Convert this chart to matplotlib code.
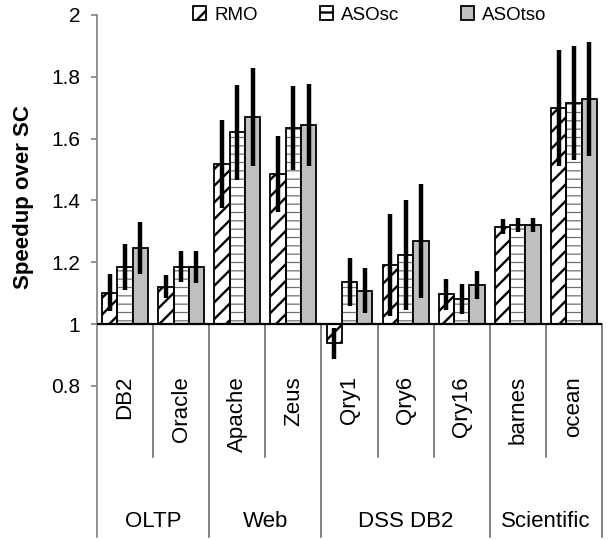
import numpy as np
import matplotlib
matplotlib.use('Agg')
import matplotlib.pyplot as plt
from matplotlib.patches import Patch

plt.rcParams['font.family'] = ['Liberation Sans', 'DejaVu Sans']
plt.rcParams['hatch.linewidth'] = 1.7

# data
benchmarks = ['DB2', 'Oracle', 'Apache', 'Zeus', 'Qry1', 'Qry6', 'Qry16', 'barnes', 'ocean']
groups = ['OLTP', 'Web', 'DSS DB2', 'Scientific']
group_sizes = [2, 2, 3, 2]
series = ['RMO', 'ASOsc', 'ASOtso']

rmo = [1.101, 1.121, 1.518, 1.485, 0.938, 1.191, 1.096, 1.315, 1.699]
asosc = [1.185, 1.185, 1.620, 1.634, 1.135, 1.223, 1.081, 1.320, 1.715]
asotso = [1.246, 1.185, 1.670, 1.644, 1.108, 1.269, 1.126, 1.320, 1.728]
rmo_err = [0.060, 0.037, 0.142, 0.123, 0.050, 0.165, 0.049, 0.025, 0.188]
asosc_err = [0.075, 0.050, 0.155, 0.136, 0.078, 0.178, 0.048, 0.022, 0.185]
asotso_err = [0.083, 0.052, 0.160, 0.133, 0.072, 0.184, 0.045, 0.022, 0.185]

yticks = [0.8, 1, 1.2, 1.4, 1.6, 1.8, 2]
ytick_labels = ['0.8', '1', '1.2', '1.4', '1.6', '1.8', '2']

fig = plt.figure(figsize=(6.08, 5.41), dpi=100)
ax = fig.add_axes([97/608, 4/541, 505/608, 522/541])

n = len(benchmarks)
x = np.arange(n) + 0.5
w = 0.273
styles = [
    dict(facecolor='white', hatch='//', hcolor='black'),
    dict(facecolor='white', hatch='--', hcolor='#707070'),
    dict(facecolor='#c0c0c0', hatch=None, hcolor='black'),
]
vals = [rmo, asosc, asotso]
errs = [rmo_err, asosc_err, asotso_err]

for k in range(3):
    pos = x + (k - 1) * w
    h = np.array(vals[k]) - 1
    st = styles[k]
    if st['hatch']:
        b = ax.bar(pos, h, w, bottom=1, color=st['facecolor'], edgecolor=st['hcolor'],
                   hatch=st['hatch'], linewidth=0, zorder=2)
        if k == 1:
            for p in b:
                if hasattr(p, 'set_hatch_linewidth'):
                    p.set_hatch_linewidth(0.9)
        ax.bar(pos, h, w, bottom=1, color='none', edgecolor='black', linewidth=1.3, zorder=3)
    else:
        ax.bar(pos, h, w, bottom=1, color=st['facecolor'], edgecolor='black', linewidth=1.3, zorder=3)
    ax.errorbar(pos, vals[k], yerr=errs[k], fmt='none', ecolor='black', elinewidth=3.2,
                capsize=0, zorder=4)

ax.set_xlim(0, n)
ax.set_ylim(0.311, 2)
ax.axhline(1, color='black', lw=1.6, zorder=5)

ax.spines['top'].set_visible(False)
ax.spines['right'].set_visible(False)
ax.spines['bottom'].set_visible(False)
ax.spines['left'].set_color('#808080')
ax.spines['left'].set_linewidth(1.2)
ax.set_xticks([])
ax.set_yticks(yticks)
ax.set_yticklabels(ytick_labels)
ax.tick_params(axis='y', length=4, width=1.2, color='#808080', labelsize=15, pad=8)

# category labels and separators
for i, name in enumerate(benchmarks):
    ax.text(x[i], 0.832, name, rotation=90, ha='center', va='top', fontsize=16)

edges = np.cumsum([0] + group_sizes)
for i in range(1, n + 1):
    bottom = 0.311 if i in edges else 0.570
    ax.plot([i, i], [bottom, 1], color='#606060', lw=1.1, zorder=1, clip_on=False)
for g, name in enumerate(groups):
    ax.text((edges[g] + edges[g + 1]) / 2, 0.3625, name, ha='center', va='center', fontsize=16)

fig.text(24/608, 1 - 197/541, 'Speedup over SC', rotation=90, ha='center', va='center',
         fontsize=16, fontweight='bold')

handles = [Patch(facecolor=s['facecolor'], edgecolor='black', hatch=s['hatch'], linewidth=1.3)
           for s in styles]
fig.legend(handles, series, loc='center', bbox_to_anchor=(370/608, 1 - 15/541), ncol=3,
           frameon=False, fontsize=13.5, handlelength=0.7, handleheight=0.7,
           handletextpad=0.43, columnspacing=3.3, borderpad=0, borderaxespad=0)

fig.savefig('out.png', dpi=100)
